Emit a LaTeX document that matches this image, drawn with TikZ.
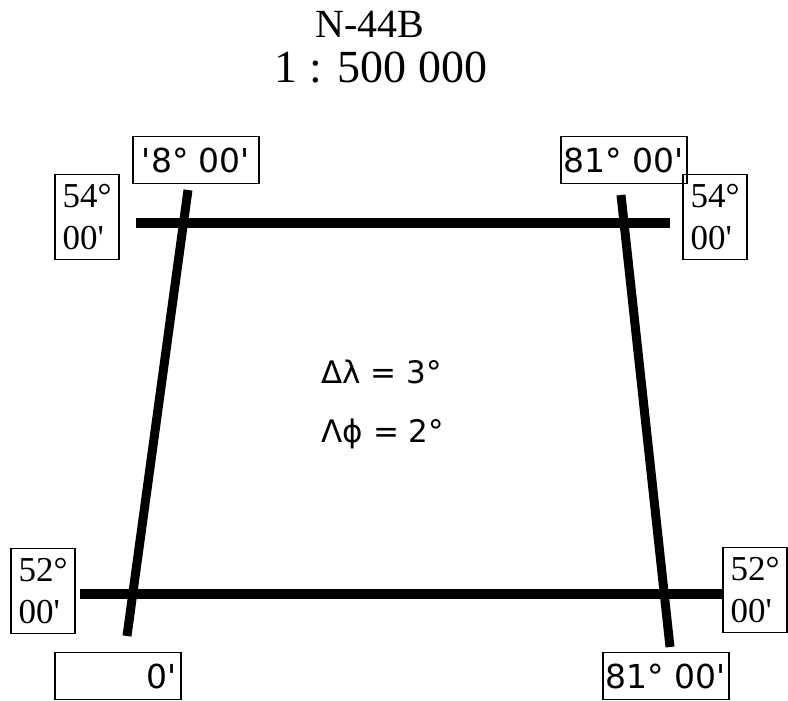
\documentclass[tikz,border=0pt]{standalone}
\usepackage{fontspec}
\setmainfont{Liberation Serif}
\newfontfamily\sansdeg{DejaVu Sans}
\usetikzlibrary{positioning}

\tikzset{
    frameline/.style={line width=10pt},
    latbox/.style={draw, line width=1.5pt, inner sep=2pt, align=left,
        minimum width=64pt, minimum height=85pt,
        font=\fontsize{35}{42}\selectfont},
    lonbox/.style={draw, line width=1.5pt, inner sep=1pt,
        minimum width=126pt, minimum height=47pt,
        font=\sansdeg\fontsize{33}{36}\selectfont},
    sizetext/.style={anchor=base west, font=\sansdeg\fontsize{31}{34}\selectfont},
    titletext/.style={anchor=base, inner sep=0pt},
}

\begin{document}
\begin{tikzpicture}[x=1pt, y=-1pt]
    \useasboundingbox (0,0) rectangle (788,701);

    % sheet title
    \node[titletext, font=\fontsize{40}{44}\selectfont] (sheet) at (370,38) {N-44B};
    \node[titletext, font=\fontsize{46}{50}\selectfont] (scale) at (381,83) {1 : 500 000};

    % frame corners
    \coordinate (nwTop) at (188,190);
    \coordinate (swBot) at (127,636);
    \coordinate (neTop) at (621,195);
    \coordinate (seBot) at (670,647);
    \coordinate (northW) at (136,223);
    \coordinate (northE) at (670,223);
    \coordinate (southW) at (80,594);
    \coordinate (southE) at (724,594);

    % parallels and meridians
    \draw[frameline] (northW) -- (northE);
    \draw[frameline] (southW) -- (southE);
    \draw[line width=9pt] (nwTop) -- (swBot);
    \draw[line width=9pt] (neTop) -- (seBot);

    % longitude labels
    \node[lonbox] (lonNW) at (196,160) {'8° 00'};
    \node[lonbox, inner sep=0pt] (lonNE) at (624,160) {81° 00'};
    \node[lonbox, align=right, text width=118pt] (lonSW) at (118,676) {0'};
    \node[lonbox] (lonSE) at (666,676) {81° 00'};

    % latitude labels
    \node[latbox] (latNW) at (87,217) {54°\\00\textquotesingle};
    \node[latbox] (latNE) at (715,217) {54°\\00\textquotesingle};
    \node[latbox] (latSW) at (43,591) {52°\\00\textquotesingle};
    \node[latbox] (latSE) at (755,590) {52°\\00\textquotesingle};

    % sheet size
    \node[sizetext] (dLam) at (318,383) {Δλ = 3°};
    \node[sizetext] (dPhi) at (318,442) {Λϕ = 2°};
\end{tikzpicture}
\end{document}
